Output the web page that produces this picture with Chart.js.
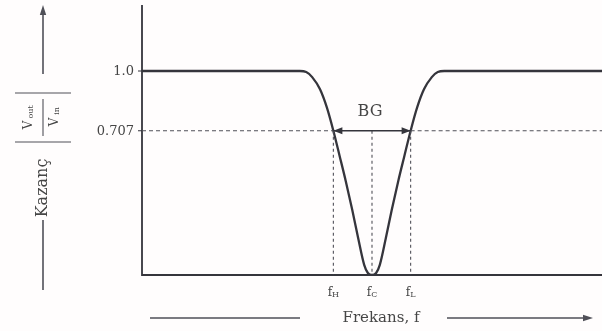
<!DOCTYPE html>
<html><head><meta charset="utf-8">
<script src="https://cdn.jsdelivr.net/npm/chart.js@4/dist/chart.umd.min.js"></script>
<style>html,body{margin:0;padding:0;background:#fffdfd;}#wrap{width:602px;height:331px;}</style>
</head><body><div id="wrap"><canvas id="c" width="602" height="331"></canvas></div>
<script>
// data
const freq = [0, 34.3, 35.7, 37.0, 38.7, 40.2, 41.6, 43.0, 44.3, 45.7, 47.0, 48.3, 49.1, 50, 50.9, 51.7, 53.0, 54.3, 55.7, 57.0, 58.4, 59.8, 61.3, 63.0, 64.3, 65.7, 100];
const gain = [1, 1, 0.995, 0.97, 0.91, 0.82, 0.707, 0.58, 0.46, 0.32, 0.18, 0.05, 0.01, 0, 0.01, 0.05, 0.18, 0.32, 0.46, 0.58, 0.707, 0.82, 0.91, 0.97, 0.995, 1, 1];
const yTicks = [1.0, 0.707];
const yTickLabels = ['1.0', '0.707'];
const keyFreqs = [41.6, 50, 58.4];
const keyLabels = [['f','H'], ['f','C'], ['f','L']];
const cutoff = 0.707;
const bandLabel = 'BG';
const xTitle = 'Frekans, f';
const yTitle = 'Kazanç';

const INK = '#35353c';
const TXT = '#464646';
const SERIF = '"DejaVu Serif", "Liberation Serif", serif';

function arrowHead(ctx, x, y, dir, size, wid) {
  ctx.save();
  ctx.translate(x, y); ctx.rotate(dir);
  ctx.beginPath(); ctx.moveTo(0, 0); ctx.lineTo(-size, -wid); ctx.lineTo(-size, wid); ctx.closePath();
  ctx.fill(); ctx.restore();
}

const deco = {
  id: 'deco',
  afterDatasetsDraw(chart) {
    const {ctx, chartArea: ca, scales: {x, y}} = chart;
    ctx.save();
    ctx.fillStyle = INK; ctx.strokeStyle = INK;
    // axes
    ctx.lineWidth = 1.8;
    ctx.beginPath(); ctx.moveTo(ca.left, ca.top); ctx.lineTo(ca.left, ca.bottom); ctx.lineTo(ca.right, ca.bottom); ctx.stroke();
    ctx.lineWidth = 1.2;
    ctx.beginPath();
    yTicks.forEach(v => { const py = y.getPixelForValue(v); ctx.moveTo(ca.left - 4, py); ctx.lineTo(ca.left, py); });
    ctx.stroke();
    // cutoff dashed
    const yc = y.getPixelForValue(cutoff);
    const xH = x.getPixelForValue(keyFreqs[0]), xC = x.getPixelForValue(keyFreqs[1]), xL = x.getPixelForValue(keyFreqs[2]);
    ctx.lineWidth = 1.1;
    ctx.strokeStyle = '#505058';
    ctx.setLineDash([4, 3]);
    ctx.beginPath(); ctx.moveTo(ca.left, yc); ctx.lineTo(xH, yc); ctx.moveTo(xL, yc); ctx.lineTo(ca.right, yc); ctx.stroke();
    ctx.setLineDash([3, 3]);
    ctx.beginPath();
    [xH, xC, xL].forEach(px => { ctx.moveTo(px, yc); ctx.lineTo(px, ca.bottom); });
    ctx.stroke();
    ctx.setLineDash([]);
    // BG arrow
    ctx.strokeStyle = INK; ctx.lineWidth = 1.4;
    ctx.beginPath(); ctx.moveTo(xH, yc); ctx.lineTo(xL, yc); ctx.stroke();
    arrowHead(ctx, xH, yc, Math.PI, 9, 3.5);
    arrowHead(ctx, xL, yc, 0, 9, 3.5);
    // BG text
    ctx.fillStyle = TXT;
    ctx.font = '16px ' + SERIF;
    ctx.textAlign = 'center'; ctx.textBaseline = 'middle';
    ctx.fillText(bandLabel, xC - 2, y.getPixelForValue(0.798));
    // y tick labels
    ctx.font = '13px ' + SERIF;
    ctx.textAlign = 'right';
    yTicks.forEach((v, i) => ctx.fillText(yTickLabels[i], ca.left - 8, y.getPixelForValue(v) + 1));
    // x tick labels with subscripts
    keyFreqs.forEach((v, i) => {
      const px = x.getPixelForValue(v);
      ctx.font = '12px ' + SERIF;
      const w1 = ctx.measureText(keyLabels[i][0]).width;
      ctx.font = '8px ' + SERIF;
      const w2 = ctx.measureText(keyLabels[i][1]).width;
      const sx = px - (w1 + w2) / 2;
      ctx.textAlign = 'left'; ctx.textBaseline = 'alphabetic';
      ctx.font = '12px ' + SERIF; ctx.fillText(keyLabels[i][0], sx, ca.bottom + 21);
      ctx.font = '8px ' + SERIF; ctx.fillText(keyLabels[i][1], sx + w1, ca.bottom + 22);
    });
    // x title with arrows
    const ty = ca.bottom + 43;
    ctx.font = '15px ' + SERIF; ctx.textAlign = 'center'; ctx.textBaseline = 'middle';
    ctx.fillText(xTitle, xC + 9, ty);
    ctx.strokeStyle = '#505058'; ctx.fillStyle = '#505058'; ctx.lineWidth = 1.6;
    ctx.beginPath(); ctx.moveTo(150, ty); ctx.lineTo(300, ty); ctx.moveTo(447, ty); ctx.lineTo(585, ty); ctx.stroke();
    arrowHead(ctx, 593, ty, 0, 10, 3.2);
    // y title (rotated)
    const ax = 43;
    ctx.beginPath(); ctx.moveTo(ax, 74); ctx.lineTo(ax, 14); ctx.stroke();
    arrowHead(ctx, ax, 5, -Math.PI / 2, 10, 3.2);
    ctx.lineWidth = 1.1;
    ctx.beginPath(); ctx.moveTo(15, 93); ctx.lineTo(71, 93); ctx.moveTo(15, 142); ctx.lineTo(71, 142); ctx.stroke();
    ctx.beginPath(); ctx.moveTo(ax, 99); ctx.lineTo(ax, 136); ctx.stroke();
    ctx.fillStyle = TXT;
    ctx.save(); ctx.translate(29, 117); ctx.rotate(-Math.PI / 2);
    ctx.font = '12px ' + SERIF; ctx.textAlign = 'center'; ctx.textBaseline = 'middle';
    ctx.fillText('V', -8, 0); ctx.font = '8px ' + SERIF; ctx.fillText('out', 5, 2);
    ctx.restore();
    ctx.save(); ctx.translate(55, 117); ctx.rotate(-Math.PI / 2);
    ctx.font = '12px ' + SERIF; ctx.textAlign = 'center'; ctx.textBaseline = 'middle';
    ctx.fillText('V', -5, 0); ctx.font = '8px ' + SERIF; ctx.fillText('in', 6, 2);
    ctx.restore();
    ctx.save(); ctx.translate(ax, 188); ctx.rotate(-Math.PI / 2);
    ctx.font = '16px ' + SERIF; ctx.textAlign = 'center'; ctx.textBaseline = 'middle';
    ctx.fillText(yTitle, 0, 0);
    ctx.restore();
    ctx.strokeStyle = '#505058'; ctx.lineWidth = 1.6;
    ctx.beginPath(); ctx.moveTo(ax, 220); ctx.lineTo(ax, 290); ctx.stroke();
    ctx.restore();
  }
};

new Chart(document.getElementById('c'), {
  type: 'line',
  data: { datasets: [{
    data: freq.map((f, i) => ({x: f, y: gain[i]})),
    borderColor: INK, borderWidth: 2.3, pointRadius: 0,
    cubicInterpolationMode: 'monotone', fill: false
  }]},
  options: {
    responsive: false, animation: false, devicePixelRatio: 1,
    layout: { padding: { left: 142, top: 5, right: 0, bottom: 56 } },
    plugins: { legend: { display: false }, tooltip: { enabled: false } },
    scales: {
      x: { type: 'linear', min: 0, max: 100, display: false },
      y: { type: 'linear', min: 0, max: 1.3235, display: false }
    }
  },
  plugins: [deco]
});
</script>
</body></html>
